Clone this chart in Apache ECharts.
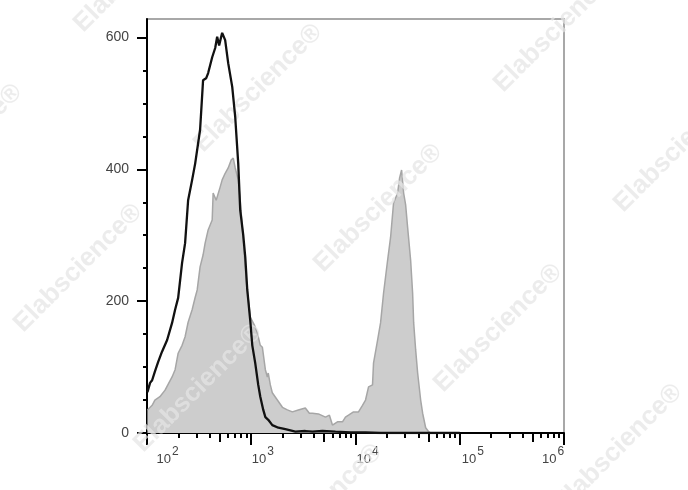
<!DOCTYPE html>
<html>
<head>
<meta charset="utf-8">
<script src="https://cdn.jsdelivr.net/npm/echarts@6/dist/echarts.min.js"></script>
<style>
  html, body { margin: 0; padding: 0; background: #ffffff; }
  #chart { width: 688px; height: 490px; }
</style>
</head>
<body>
<div id="chart"></div>
<script>
// ---- data ----
const grayX = [101,112,119,133,149,174,186,199,217,232,248,271,290,303,323,345,361,386,422,431,461,503,526,562,601,642,672,702,750,784,838,894,978,1069,1143,1221,1279,1366,1427,1456,1524,1592,1780,1990,2220,2480,2830,3300,3610,3860,4410,5150,5620,6010,6710,7500,8010,8570,9570,10690,11670,12480,13340,14560,14890,16290,17390,18580,20320,21710,23180,25350,26490,27680,28960,30270,31620,33800,35320,36140,37760,39460,42170,44060,47100,50350,52600];
const grayY = [35,42,50,55,65,85,96,121,133,146,168,187,206,217,252,270,288,308,323,364,353,373,384,394,402,414,417,402,384,353,293,232,176,164,152,133,130,96,85,91,73,61,50,39,35,32,35,38,30,30,29,24,27,12,17,17,24,27,32,32,42,50,70,73,106,141,167,212,262,297,349,364,387,399,364,346,312,262,212,167,126,91,50,30,8,2,0];

const blackX = [101,107,112,119,128,139,156,174,186,199,217,232,248,271,290,323,345,369,386,422,451,471,492,526,562,601,657,702,750,784,838,876,916,978,1023,1092,1167,1221,1304,1366,1456,1592,1820,2123,2648,3304,3863,4819,6428,8955,12480,17390,30000,60000,100000];
const blackY = [62,76,80,93,108,123,141,167,187,205,258,288,353,384,409,460,535,538,546,570,584,601,588,607,596,561,525,479,409,338,300,267,217,171,133,106,73,55,35,24,20,12,8,6,2,3,2,3,2,1,1,0,0,0,0];

const xMin = 100, xMax = 1000000;
const yMin = 0, yMax = 628;
const yMajorTicks = [0, 200, 400, 600];
const yMinorTicks = [50, 100, 150, 250, 300, 350, 450, 500, 550];
const xMidTicks = [500, 5000, 50000, 500000];
const xMinorTicks = [200,300,400,600,700,800,900,2000,3000,4000,6000,7000,8000,9000,20000,30000,40000,60000,70000,80000,90000,200000,300000,400000,600000,700000,800000,900000];
const watermarkText = 'Elabscience®';

// ---- styling helpers ----
const labelShift = {2: [41, 0], 3: [23, 0], 4: [24, 0], 5: [26, 0], 6: [0, 22]};
const rich = {};
Object.keys(labelShift).forEach(function (e) {
  rich['b' + e] = {fontSize: 13, color: '#444', fontFamily: 'Liberation Sans', padding: [0, 0, 0, labelShift[e][0]]};
  rich['s' + e] = {fontSize: 12, color: '#444', fontFamily: 'Liberation Sans', padding: [0, labelShift[e][1], 15, 1]};
});

function pairs(xs, ys) { return xs.map(function (x, i) { return [x, ys[i]]; }); }
const lg = function (v) { return Math.log10(v); };

const wmCenters = [[258,88],[378,208],[498,328],[618,448],[138,-32],[78,268],[198,388],[318,508],[-42,148],[558,28],[678,148]];
const graphics = wmCenters.map(function (c) {
  return {
    type: 'text', x: c[0], y: c[1], rotation: Math.PI / 4, z: 3,
    style: {text: watermarkText, fontSize: 26, fontWeight: 'bold', fontFamily: 'Liberation Sans',
            fill: 'rgba(228,228,228,0.72)', align: 'center', verticalAlign: 'middle'}
  };
});

const chart = echarts.init(document.getElementById('chart'), null, {renderer: 'canvas'});
chart.setOption({
  animation: false,
  backgroundColor: '#ffffff',
  grid: {left: 147, right: 124, top: 19, bottom: 57, show: true, borderColor: '#a8a8a8', borderWidth: 2},
  graphic: graphics,
  xAxis: [
    {
      type: 'log', logBase: 10, min: xMin, max: xMax, position: 'bottom',
      axisLine: {show: true, onZero: false, lineStyle: {color: '#000', width: 2}},
      axisTick: {show: true, length: 12, lineStyle: {color: '#000', width: 2}},
      splitLine: {show: false},
      axisLabel: {
        margin: 13,
        formatter: function (v) {
          const e = Math.round(Math.log10(v));
          return '{b' + e + '|10}{s' + e + '|' + e + '}';
        },
        rich: rich
      }
    },
    {
      type: 'value', min: lg(xMin), max: lg(xMax), position: 'bottom',
      axisLine: {show: false, onZero: false},
      axisTick: {show: true, length: 9, customValues: xMidTicks.map(lg), lineStyle: {color: '#000', width: 2}},
      axisLabel: {show: false}, splitLine: {show: false}
    },
    {
      type: 'value', min: lg(xMin), max: lg(xMax), position: 'bottom',
      axisLine: {show: false, onZero: false},
      axisTick: {show: true, length: 5, customValues: xMinorTicks.map(lg), lineStyle: {color: '#000', width: 2}},
      axisLabel: {show: false}, splitLine: {show: false}
    }
  ],
  yAxis: [
    {
      type: 'value', min: yMin, max: yMax, position: 'left',
      axisLine: {show: true, onZero: false, lineStyle: {color: '#000', width: 2}},
      axisTick: {show: true, length: 10, customValues: yMajorTicks, lineStyle: {color: '#000', width: 2}},
      axisLabel: {customValues: yMajorTicks, margin: 18, fontSize: 14, color: '#444', fontFamily: 'Liberation Sans'},
      splitLine: {show: false}
    },
    {
      type: 'value', min: yMin, max: yMax, position: 'left',
      axisLine: {show: false, onZero: false},
      axisTick: {show: true, length: 4, customValues: yMinorTicks, lineStyle: {color: '#000', width: 2}},
      axisLabel: {show: false}, splitLine: {show: false}
    }
  ],
  series: [
    {
      type: 'line', name: 'control', data: pairs(grayX, grayY), xAxisIndex: 0, yAxisIndex: 0,
      showSymbol: false, z: 2,
      lineStyle: {color: '#a6a6a6', width: 1.5},
      areaStyle: {color: '#cdcdcd', opacity: 1}
    },
    {
      type: 'line', name: 'sample', data: pairs(blackX, blackY), xAxisIndex: 0, yAxisIndex: 0,
      showSymbol: false, z: 5,
      lineStyle: {color: '#111', width: 2.3}
    }
  ]
});
</script>
</body>
</html>
